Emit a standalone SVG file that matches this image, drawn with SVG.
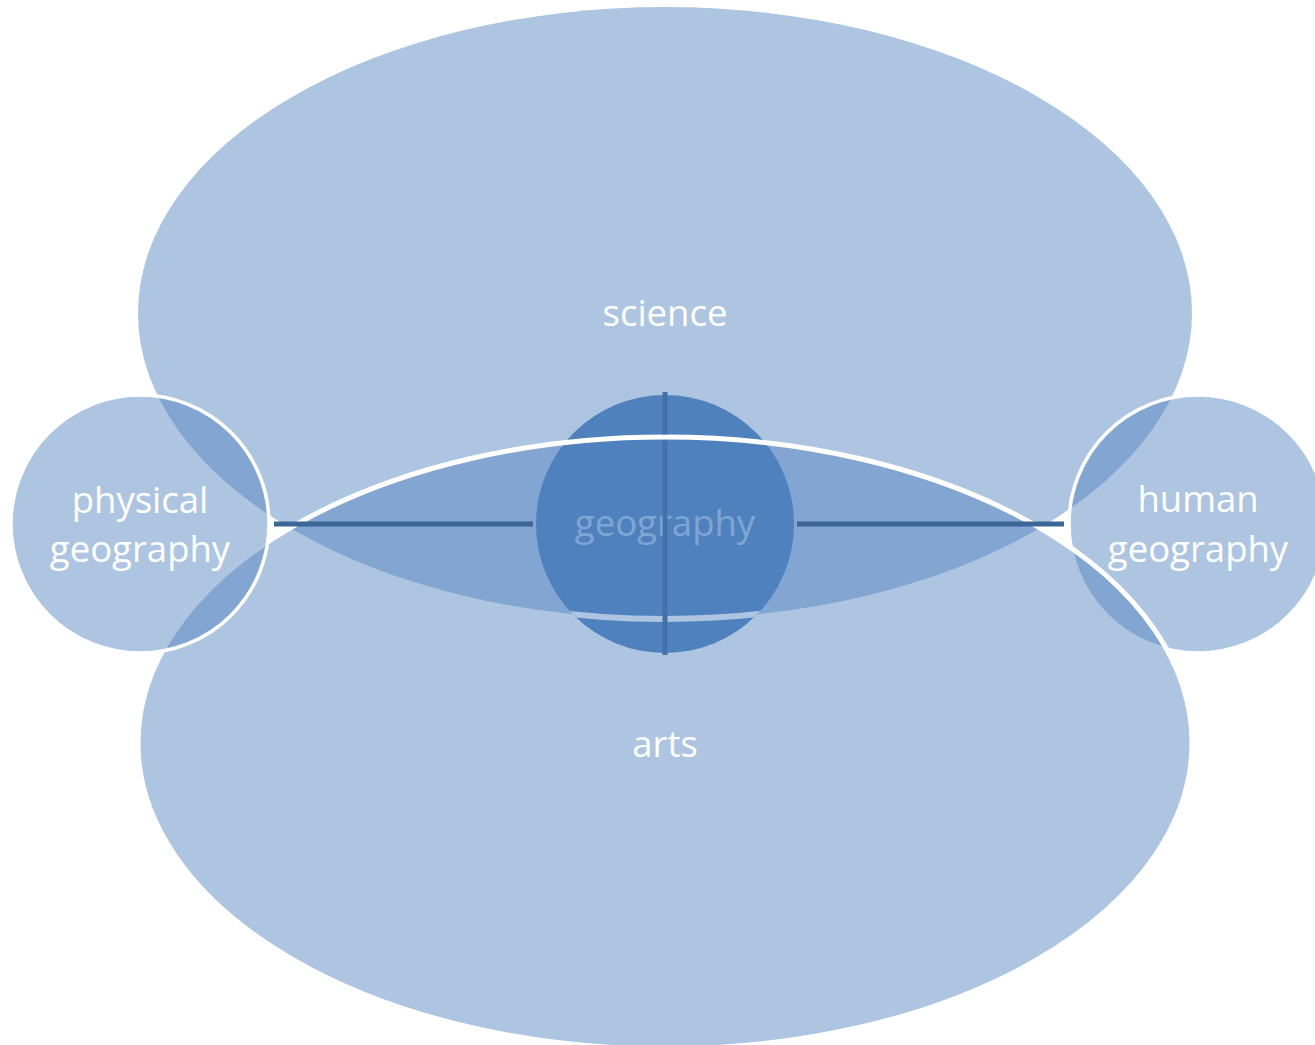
<svg xmlns="http://www.w3.org/2000/svg" width="1315" height="1045" viewBox="0 0 1315 1045">
  <defs>
    <style>
      .blob { fill: #4f81bd; fill-opacity: 0.46; }
      .ring { stroke: #ffffff; stroke-width: 3.5; }
      .lbl { font-family: "Open Sans", "Noto Sans", "Liberation Sans", sans-serif; font-size: 36.5px; fill: #ffffff; text-anchor: middle; }
      .conn { stroke: #3c6598; stroke-width: 5; fill: none; }
      .axis { stroke: #4372ab; stroke-width: 5; fill: none; }
    </style>
    <clipPath id="geoClip">
      <circle cx="665" cy="524" r="129"/>
    </clipPath>
  </defs>
  <rect width="1315" height="1045" fill="#ffffff"/>

  <g id="science">
    <ellipse class="blob" cx="665" cy="313" rx="527" ry="306"/>
    <text class="lbl" x="665" y="326">science</text>
  </g>

  <g id="human-geography">
    <circle class="blob ring" cx="1198" cy="524" r="129"/>
    <text class="lbl" x="1198" y="512">human</text>
    <text class="lbl" x="1198" y="562">geography</text>
  </g>

  <g id="geography">
    <circle cx="665" cy="524" r="129" fill="#4f81bd"/>
    <ellipse cx="665" cy="313" rx="527" ry="306" fill="none" stroke="#ffffff" stroke-width="6" clip-path="url(#geoClip)"/>
    <text class="lbl" x="665" y="536" style="fill:#a9c6e6">geography</text>
  </g>

  <g id="arts">
    <ellipse class="blob" cx="665" cy="743" rx="527" ry="306"/>
    <ellipse cx="665" cy="743" rx="527" ry="306" fill="none" stroke="#ffffff" stroke-width="5"/>
    <text class="lbl" x="665" y="757">arts</text>
  </g>

  <g id="connectors">
    <line class="conn" x1="274" y1="524" x2="533" y2="524"/>
    <line class="conn" x1="797" y1="524" x2="1064" y2="524"/>
    <path class="axis" d="M665 392 V434.5 M665 440.5 V655"/>
  </g>

  <g id="physical-geography">
    <circle class="blob ring" cx="140" cy="524" r="129"/>
    <text class="lbl" x="140" y="513">physical</text>
    <text class="lbl" x="140" y="562">geography</text>
  </g>
</svg>
